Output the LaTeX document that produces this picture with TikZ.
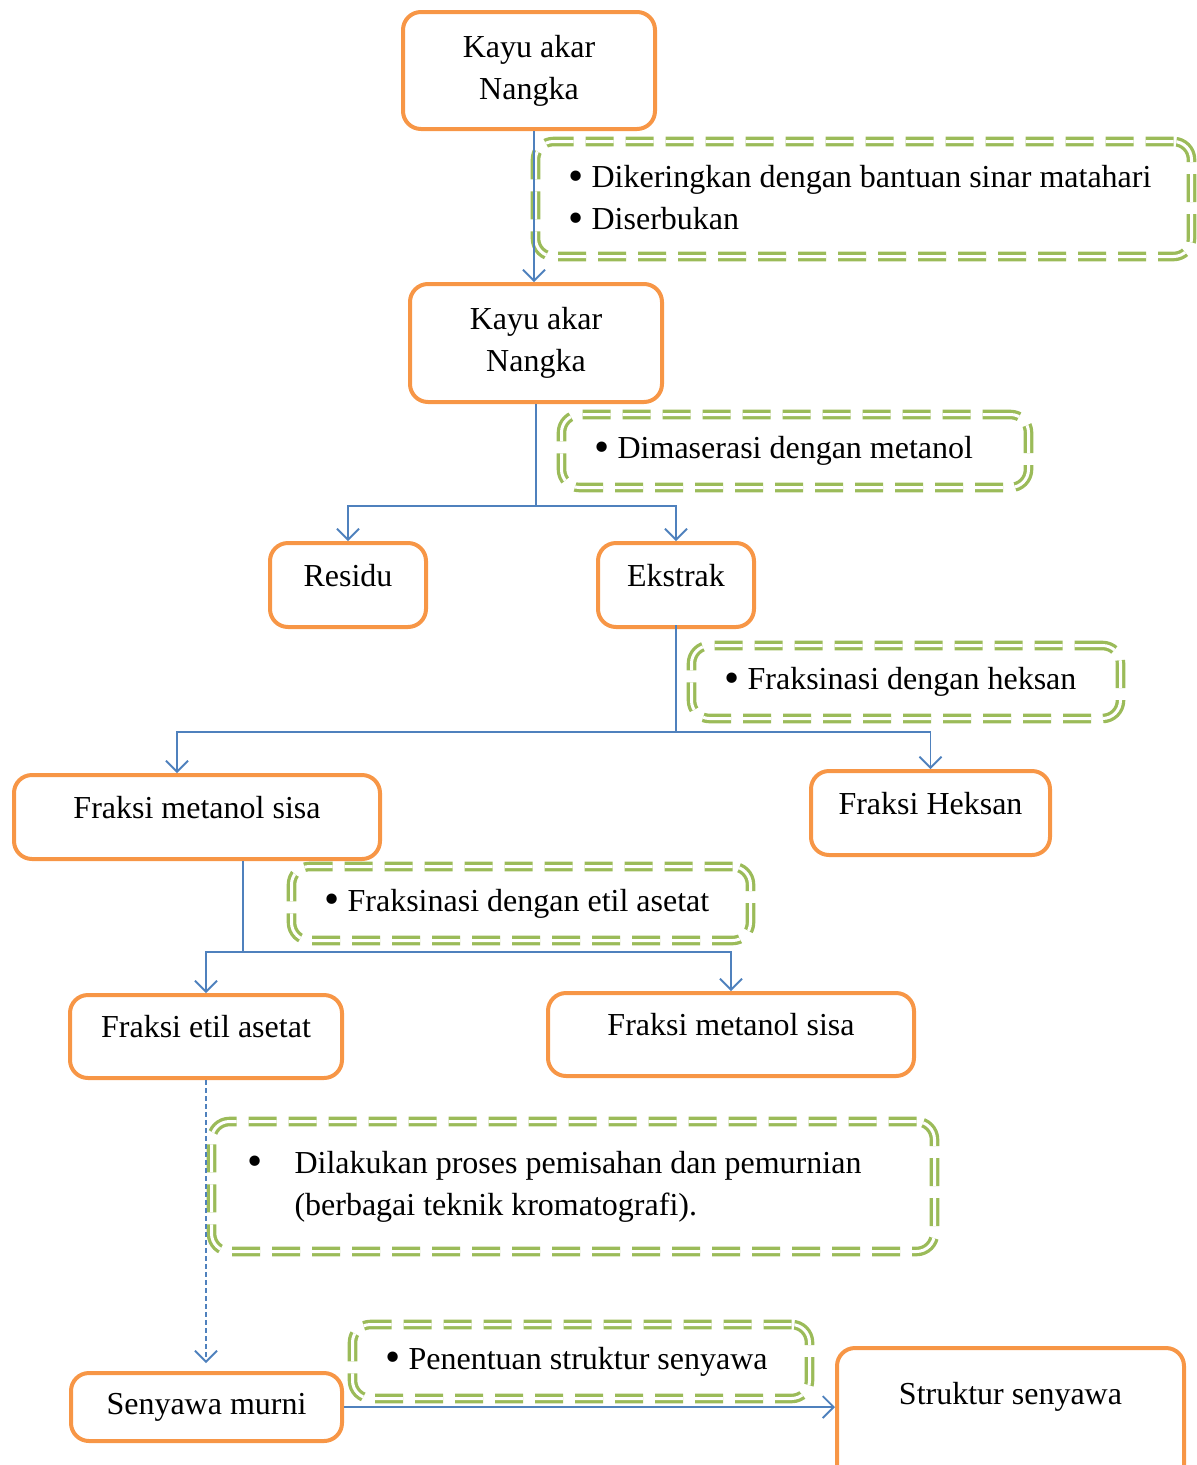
\documentclass[tikz,border=0pt]{standalone}
\usepackage{fontspec}
\setmainfont{Liberation Serif}
\usepackage{tikz}
\usetikzlibrary{arrows.meta}
\definecolor{boxorange}{HTML}{F79646}
\definecolor{notegreen}{HTML}{9BBB59}
\definecolor{linkblue}{HTML}{4F81BD}
\newcommand{\butir}{\raisebox{-0.08em}{\scalebox{1.35}{\textbullet}}}
\tikzset{
  box/.style={draw=boxorange, line width=4pt, rounded corners=18pt, align=center, inner sep=0pt},
  oneline/.style={text height=22pt, text depth=20pt},
  note/.style={draw=notegreen, line width=3.3pt, double=white, double distance=3pt, dash pattern=on 28pt off 12pt, rounded corners=18pt, align=flush left, inner xsep=33pt, inner ysep=0pt},
  link/.style={draw=linkblue, line width=1.8pt},
  arrow/.style={link, -{Straight Barb[length=11pt, width=22pt, line width=1.8pt]}}
}

\begin{document}
\begin{tikzpicture}[x=1pt, y=-1pt, font=\fontsize{32pt}{42pt}\selectfont]
        \useasboundingbox (0,0) rectangle (1197,1465);

        \node[box, minimum width=252pt, minimum height=117pt] (kayu1) at (529,70.5) {Kayu akar\\Nangka};
        \node[box, minimum width=252pt, minimum height=118pt] (kayu2) at (536,343) {Kayu akar\\Nangka};
        \node[box, oneline, minimum width=156pt, minimum height=84pt] (residu) at (348,585) {Residu};
        \node[box, oneline, minimum width=156pt, minimum height=84pt] (ekstrak) at (676,585) {Ekstrak};
        \node[box, oneline, minimum width=366pt, minimum height=84pt] (metanol1) at (197,817) {Fraksi metanol sisa};
        \node[box, oneline, minimum width=239pt, minimum height=84pt] (heksan) at (930.5,813) {Fraksi Heksan};
        \node[box, oneline, minimum width=272pt, minimum height=83pt] (etil) at (206,1036.5) {Fraksi etil asetat};
        \node[box, oneline, minimum width=366pt, minimum height=83pt] (metanol2) at (731,1034.5) {Fraksi metanol sisa};
        \node[box, minimum width=271pt, minimum height=68pt] (murni) at (206.5,1407) {Senyawa murni};
        \node[box, text height=22pt, text depth=60pt, minimum width=347pt, minimum height=150pt] (struktur) at (1010.5,1423) {Struktur senyawa};

        \node[note, minimum width=650pt, minimum height=115pt, text width=590pt] (kering) at (863.5,199) {\butir{} Dikeringkan dengan bantuan sinar matahari\\\butir{} Diserbukan};
        \node[note, minimum width=467pt, minimum height=73pt, text width=401pt] (maserasi) at (795,451) {\butir{} Dimaserasi dengan metanol};
        \node[note, minimum width=429pt, minimum height=73pt, text width=363pt] (heksanfr) at (906,682) {\butir{} Fraksinasi dengan heksan};
        \node[note, minimum width=459pt, minimum height=74pt, text width=393pt] (etilfr) at (521,903.5) {\butir{} Fraksinasi dengan etil asetat};
        \node[note, minimum width=723pt, minimum height=130pt, text width=651pt, inner xsep=36pt] (pisah) at (573,1186.5) {\makebox[47pt][l]{\butir}Dilakukan proses pemisahan dan pemurnian\\\hspace*{47pt}(berbagai teknik kromatografi).};
        \node[note, minimum width=457pt, minimum height=74pt, text width=391pt] (tentu) at (581,1361.5) {\butir{} Penentuan struktur senyawa};

        \coordinate (cabang1) at (536,506);
        \coordinate (cabang2) at (676,732);
        \coordinate (cabang3) at (243,952);

        \draw[arrow] ([xshift=-2pt]kayu1.south -| kayu2.north) -- ([xshift=-2pt]kayu2.north);
        \draw[link] (kayu2.south) -- (cabang1);
        \draw[arrow] (cabang1) -| (residu.north);
        \draw[arrow] (cabang1) -| (ekstrak.north);
        \draw[link] ([yshift=4pt]ekstrak.south) -- (cabang2);
        \draw[arrow] (cabang2) -| ([xshift=-20pt]metanol1.north);
        \draw[arrow] (cabang2) -| (heksan.north);
        \draw[link] ([xshift=46pt]metanol1.south) -- (cabang3);
        \draw[arrow] (cabang3) -| (etil.north);
        \draw[arrow] (cabang3) -| (metanol2.north);
        \draw[arrow, dash pattern=on 5pt off 3pt, shorten >=8pt] (etil.south) -- (etil.south |- murni.north);
        \draw[arrow] (murni.east) -- (struktur.west |- murni.east);
    \end{tikzpicture}
\end{document}
